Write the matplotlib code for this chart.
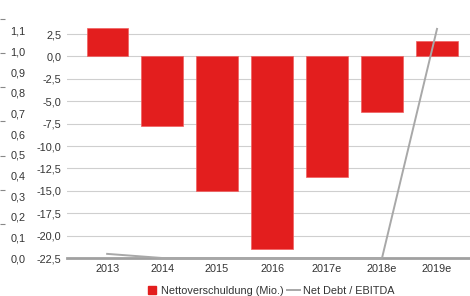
import matplotlib.pyplot as plt
from matplotlib.lines import Line2D
import numpy as np

plt.rcParams['font.family'] = ['Liberation Sans', 'DejaVu Sans']

# data
years = ['2013', '2014', '2015', '2016', '2017e', '2018e', '2019e']
net_debt = [3.2, -7.75, -15.0, -21.45, -13.45, -6.2, 1.7]        # Mio.
debt_ebitda = [0.02, 0.0, 0.0, 0.0, 0.0, 0.0, 1.11]
bar_ticks = [2.5, 0.0, -2.5, -5.0, -7.5, -10.0, -12.5, -15.0, -17.5, -20.0, -22.5]
ratio_ticks = [0.0, 0.1, 0.2, 0.3, 0.4, 0.5, 0.6, 0.7, 0.8, 0.9, 1.0, 1.1]

red = '#e31e1e'
grey_line = '#a8a8a8'
txt = '#333333'
fs = 7.8

fig = plt.figure(figsize=(4.7, 2.96), dpi=100)
ax = fig.add_axes([67 / 470, 38 / 296, 403 / 470, 239 / 296])

x = np.arange(len(years))
ax.bar(x, net_debt, width=0.75, color=red, edgecolor='#f06060', linewidth=0.5, zorder=3)
ax.set_xlim(-0.73, 6.6)
ax.set_ylim(-22.5, 4.18)
ax.set_yticks(bar_ticks)
ax.set_yticklabels([f'{v:.1f}'.replace('.', ',') for v in bar_ticks])
ax.set_xticks(x)
ax.set_xticklabels(years)
ax.tick_params(axis='both', length=0, labelsize=fs, labelcolor=txt)
ax.tick_params(axis='y', pad=4)
ax.tick_params(axis='x', pad=4)
ax.grid(axis='y', color='#cfcfcf', linewidth=0.8, zorder=0)
for s in ['top', 'right', 'left']:
    ax.spines[s].set_visible(False)
ax.spines['bottom'].set_color('#a0a0a0')
ax.spines['bottom'].set_linewidth(2)

# secondary axis for Net Debt / EBITDA, drawn on the far left
ax2 = ax.twinx()
ax2.yaxis.set_ticks_position('left')
ax2.spines['left'].set_position(('outward', 67 * 0.72))
for s in ['top', 'right', 'left', 'bottom']:
    ax2.spines[s].set_visible(False)
ax2.set_ylim(0, 1.158)
ax2.set_yticks(ratio_ticks)
ax2.set_yticklabels([f'{v:.1f}'.replace('.', ',') for v in ratio_ticks])
ax2.set_yticks(np.linspace(0, 1.158, 8), minor=True)
ax2.tick_params(axis='y', which='major', length=0, pad=-18.5, labelsize=fs, labelcolor=txt)
ax2.tick_params(axis='y', which='minor', length=3.5, direction='in', color='#888888', width=0.8)
ax2.plot(x, debt_ebitda, color=grey_line, linewidth=1.4, clip_on=False, zorder=4)

handles = [
    Line2D([], [], marker='s', color=red, linestyle='None', markersize=6),
    Line2D([], [], color=grey_line, linewidth=1.4),
]
fig.legend(handles, ['Nettoverschuldung (Mio.)', 'Net Debt / EBITDA'],
           loc='center', bbox_to_anchor=(0.574, 0.017), ncol=2, frameon=False,
           fontsize=fs, handlelength=1.2, handletextpad=0.25, columnspacing=0.35,
           labelcolor=txt)

fig.savefig('out.png', dpi=100)
